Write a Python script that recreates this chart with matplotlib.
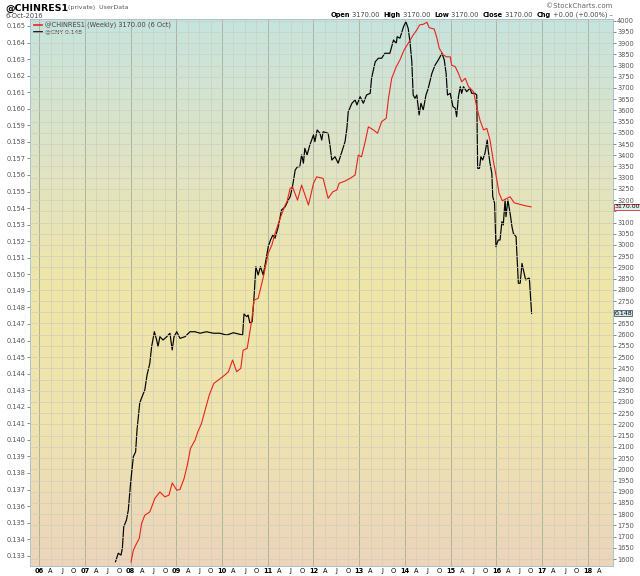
import numpy as np
import matplotlib.pyplot as plt
from matplotlib.colors import LinearSegmentedColormap

# @CNY (left axis) - decimal year, value
cny_t = [2007.67, 2007.73, 2007.79, 2007.82, 2007.85, 2007.91, 2007.95, 2008.00, 2008.06, 2008.11,
         2008.14, 2008.20, 2008.24, 2008.28, 2008.31, 2008.36, 2008.42, 2008.46, 2008.52, 2008.57,
         2008.60, 2008.64, 2008.71, 2008.79, 2008.86, 2008.91, 2008.95, 2009.01, 2009.08, 2009.19,
         2009.30, 2009.41, 2009.52, 2009.66, 2009.81, 2009.95, 2010.10, 2010.25, 2010.45, 2010.48,
         2010.54, 2010.57, 2010.61, 2010.66, 2010.70, 2010.74, 2010.79, 2010.84, 2010.90, 2010.96,
         2011.01, 2011.06, 2011.11, 2011.16, 2011.23, 2011.30, 2011.38, 2011.45, 2011.49, 2011.54,
         2011.60, 2011.65, 2011.70, 2011.74, 2011.78, 2011.81, 2011.86, 2011.92, 2012.00, 2012.03,
         2012.08, 2012.14, 2012.18, 2012.21, 2012.32, 2012.36, 2012.40, 2012.47, 2012.54, 2012.62,
         2012.69, 2012.73, 2012.76, 2012.84, 2012.91, 2012.95, 2013.02, 2013.09, 2013.16, 2013.24,
         2013.27, 2013.35, 2013.42, 2013.49, 2013.56, 2013.67, 2013.75, 2013.81, 2013.83, 2013.89,
         2013.97, 2014.02, 2014.07, 2014.11, 2014.15, 2014.18, 2014.22, 2014.26, 2014.31, 2014.35,
         2014.40, 2014.46, 2014.51, 2014.59, 2014.66, 2014.73, 2014.81, 2014.86, 2014.90, 2014.93,
         2014.99, 2015.05, 2015.10, 2015.13, 2015.17, 2015.21, 2015.24, 2015.28, 2015.35, 2015.42,
         2015.46, 2015.53, 2015.57, 2015.59, 2015.63, 2015.66, 2015.70, 2015.75, 2015.80, 2015.82,
         2015.86, 2015.90, 2015.92, 2015.96, 2015.99, 2016.04, 2016.08, 2016.12, 2016.15, 2016.19,
         2016.21, 2016.25, 2016.30, 2016.34, 2016.37, 2016.43, 2016.48, 2016.52, 2016.56, 2016.59,
         2016.64, 2016.70, 2016.72, 2016.77]
cny_v = [0.13264, 0.13315, 0.13304, 0.13345, 0.13475, 0.13516, 0.13576, 0.13739, 0.13898, 0.13928,
         0.14059, 0.14223, 0.14253, 0.14281, 0.14301, 0.14392, 0.14462, 0.14563, 0.14653, 0.14603,
         0.14563, 0.14623, 0.14603, 0.14623, 0.14644, 0.14543, 0.14623, 0.14653, 0.14613, 0.14623,
         0.14653, 0.14653, 0.14644, 0.14653, 0.14644, 0.14644, 0.14633, 0.14647, 0.14633, 0.14760,
         0.14744, 0.14754, 0.14704, 0.14714, 0.14865, 0.15046, 0.14996, 0.15046, 0.14996, 0.15086,
         0.15167, 0.15207, 0.15237, 0.15218, 0.15288, 0.15388, 0.15408, 0.15449, 0.15469, 0.15529,
         0.15630, 0.15650, 0.15650, 0.15721, 0.15671, 0.15761, 0.15721, 0.15781, 0.15842, 0.15801,
         0.15872, 0.15852, 0.15811, 0.15861, 0.15852, 0.15781, 0.15690, 0.15710, 0.15671, 0.15741,
         0.15801, 0.15882, 0.15982, 0.16033, 0.16053, 0.16023, 0.16073, 0.16033, 0.16083, 0.16093,
         0.16184, 0.16284, 0.16305, 0.16305, 0.16335, 0.16335, 0.16415, 0.16395, 0.16435, 0.16426,
         0.16496, 0.16526, 0.16486, 0.16405, 0.16284, 0.16083, 0.16063, 0.16083, 0.15962, 0.16033,
         0.15993, 0.16083, 0.16124, 0.16214, 0.16264, 0.16295, 0.16335, 0.16295, 0.16214, 0.16083,
         0.16093, 0.16013, 0.16003, 0.15952, 0.16073, 0.16133, 0.16093, 0.16133, 0.16103, 0.16124,
         0.16093, 0.16093, 0.16083, 0.15640, 0.15640, 0.15710, 0.15690, 0.15731, 0.15811, 0.15751,
         0.15671, 0.15610, 0.15469, 0.15429, 0.15167, 0.15207, 0.15207, 0.15318, 0.15298, 0.15449,
         0.15348, 0.15449, 0.15369, 0.15288, 0.15248, 0.15227, 0.14946, 0.14946, 0.15066, 0.15026,
         0.14966, 0.14976, 0.14976, 0.14764]

# @CHINRES1 (right axis)
res_t = [2008.01, 2008.06, 2008.13, 2008.19, 2008.24, 2008.31, 2008.42, 2008.53, 2008.64, 2008.75,
         2008.84, 2008.91, 2009.01, 2009.08, 2009.17, 2009.24, 2009.31, 2009.41, 2009.47, 2009.55,
         2009.63, 2009.72, 2009.82, 2009.92, 2010.06, 2010.14, 2010.23, 2010.32, 2010.41, 2010.46,
         2010.55, 2010.65, 2010.70, 2010.79, 2010.87, 2010.92, 2011.01, 2011.09, 2011.16, 2011.27,
         2011.38, 2011.42, 2011.49, 2011.54, 2011.65, 2011.74, 2011.89, 2012.00, 2012.07, 2012.21,
         2012.32, 2012.42, 2012.51, 2012.56, 2012.69, 2012.80, 2012.91, 2012.98, 2013.05, 2013.13,
         2013.20, 2013.31, 2013.40, 2013.49, 2013.59, 2013.64, 2013.71, 2013.81, 2013.89, 2013.98,
         2014.07, 2014.18, 2014.26, 2014.32, 2014.40, 2014.48, 2014.53, 2014.64, 2014.70, 2014.75,
         2014.84, 2014.91, 2014.99, 2015.02, 2015.10, 2015.17, 2015.24, 2015.32, 2015.39, 2015.50,
         2015.57, 2015.64, 2015.72, 2015.79, 2015.86, 2015.93, 2016.01, 2016.06, 2016.13, 2016.23,
         2016.30, 2016.39, 2016.52, 2016.63, 2016.76]
res_v = [1587, 1639, 1669, 1692, 1758, 1795, 1810, 1870, 1899, 1877,
         1885, 1939, 1907, 1910, 1959, 2018, 2093, 2130, 2167, 2204,
         2264, 2331, 2383, 2398, 2420, 2435, 2487, 2435, 2450, 2531,
         2539, 2665, 2754, 2762, 2829, 2873, 2963, 3000, 3052, 3119,
         3178, 3193, 3253, 3260, 3200, 3267, 3178, 3275, 3304, 3297,
         3208, 3237, 3245, 3275, 3285, 3297, 3312, 3401, 3393, 3460,
         3527, 3513, 3498, 3550, 3565, 3654, 3743, 3795, 3825, 3869,
         3899, 3936, 3959, 3981, 3984, 3993, 3969, 3963, 3922, 3877,
         3847, 3839, 3839, 3802, 3795, 3765, 3728, 3743, 3706, 3683,
         3616, 3557, 3513, 3520, 3468, 3379, 3290, 3230, 3197, 3208,
         3215, 3188, 3181, 3175, 3170]

years = list(range(2006, 2019))
year_labels = ["%02d" % (y % 100) for y in years]
quarter_names = ["A", "J", "O"]
right_ticks = list(range(1600, 4001, 50))
hidden_right = [2700, 3150]   # covered by the last-value boxes

FS = 4.8
fig = plt.figure(figsize=(6.4, 5.76), dpi=100)
ax = fig.add_axes([30/640, 10/576, 583/640, 547/576])
ax2 = ax.twinx()

# background gradient
cmap = LinearSegmentedColormap.from_list("bg", ["#ecd4bb", "#efe3b0", "#f0e6a6", "#dfe3c6", "#c5e3e0"])
grad = np.linspace(0, 1, 256).reshape(-1, 1)
ax.imshow(grad, extent=(0, 1, 0, 1), transform=ax.transAxes, cmap=cmap,
          aspect="auto", origin="lower", zorder=0)

ax.set_xlim(2005.80, 2018.55)
ax.set_ylim(0.13238, 0.16542)
ax2.set_ylim(1568.8, 4007.6)

# vertical grid
minor = [y + q for y in range(2005, 2019) for q in (0.25, 0.5, 0.75) if 2005.8 < y + q <= 2018.3]
for m in minor:
    ax.axvline(m, color="#cfcfba", lw=0.5, zorder=1)
for y in years:
    ax.axvline(y, color="#aeb39e", lw=0.7, zorder=1)
# horizontal grid on right scale
for v in right_ticks:
    ax2.axhline(v, color="#cfcfba", lw=0.5, zorder=1)

ax.plot(cny_t, cny_v, color="black", lw=0.85, zorder=3)
ax2.plot(res_t, res_v, color="#e8231c", lw=0.8, zorder=3)

ax.set_xticks(years)
ax.set_xticklabels(year_labels, fontweight="bold")
ax.set_xticks(minor, minor=True)
ax.set_xticklabels([quarter_names[int(round((m % 1) * 4)) - 1] for m in minor], minor=True)
ax.tick_params(axis="x", which="both", length=0, labelsize=FS, pad=1.5)

lticks = np.round(np.arange(0.133, 0.1651, 0.001), 3)
ax.set_yticks(lticks)
ax.set_yticklabels(["%.3f" % v for v in lticks])
ax.tick_params(axis="y", length=2, width=0.5, labelsize=FS, pad=1, colors="#555555")
ax2.set_yticks(right_ticks)
ax2.set_yticklabels(["" if v in hidden_right else str(v) for v in right_ticks])
ax2.tick_params(axis="y", length=2, width=0.5, labelsize=FS, pad=1, colors="#555555")

for sp in list(ax.spines.values()) + list(ax2.spines.values()):
    sp.set_color("#a9c4cf")
    sp.set_linewidth(0.6)

# last value boxes
ax2.text(1.002, 3170, "3170.00", transform=ax2.get_yaxis_transform(),
         fontsize=4.5, va="center", ha="left", zorder=5,
         bbox=dict(boxstyle="square,pad=0.1", fc="#d8f0f4", ec="#e8231c", lw=0.6))
ax.text(1.002, cny_v[-1], "0.148", transform=ax.get_yaxis_transform(),
        fontsize=4.5, va="center", ha="left", zorder=5,
        bbox=dict(boxstyle="square,pad=0.1", fc="#cfe8f2", ec="#555555", lw=0.6))

# in-chart legend
ax.plot([0.007, 0.020], [0.989, 0.989], color="#e8231c", lw=1.2, transform=ax.transAxes)
ax.text(0.025, 0.989, "@CHINRES1 (Weekly) 3170.00 (6 Oct)", transform=ax.transAxes,
        fontsize=FS, va="center", color="#444444")
ax.plot([0.007, 0.020], [0.976, 0.976], color="black", lw=1.2, transform=ax.transAxes)
ax.text(0.025, 0.976, "@CNY 0.148", transform=ax.transAxes, fontsize=4.3, va="center",
        color="#444444")

# header
fig.text(5/640, 1 - 8/576, "@CHINRES1", fontsize=6.8, fontweight="bold", va="center")
fig.text(68/640, 1 - 8/576, "(private)  UserData", fontsize=4.5, va="center", color="#555555")
fig.text(5/640, 1 - 15.5/576, "6-Oct-2016", fontsize=FS, va="center", color="#444444")
fig.text(612/640, 1 - 6/576, "\u00a9StockCharts.com", fontsize=5, va="center", ha="right",
         color="#666666")
parts = [("Open", True), (" 3170.00  ", False), ("High", True), (" 3170.00  ", False),
         ("Low", True), (" 3170.00  ", False), ("Close", True), (" 3170.00  ", False),
         ("Chg", True), (" +0.00 (+0.00%) \u2013", False)]
r = fig.canvas.get_renderer()
texts = []
for s, b in parts:
    t = fig.text(0, 1 - 15/576, s, fontsize=FS, va="center",
                 fontweight="bold" if b else "normal", color="black" if b else "#444444")
    texts.append(t)
widths = [t.get_window_extent(renderer=r).width / fig.bbox.width for t in texts]
x0 = 613/640 - sum(widths)
for t, w in zip(texts, widths):
    t.set_x(x0)
    x0 += w

fig.savefig("out.png", dpi=100)
